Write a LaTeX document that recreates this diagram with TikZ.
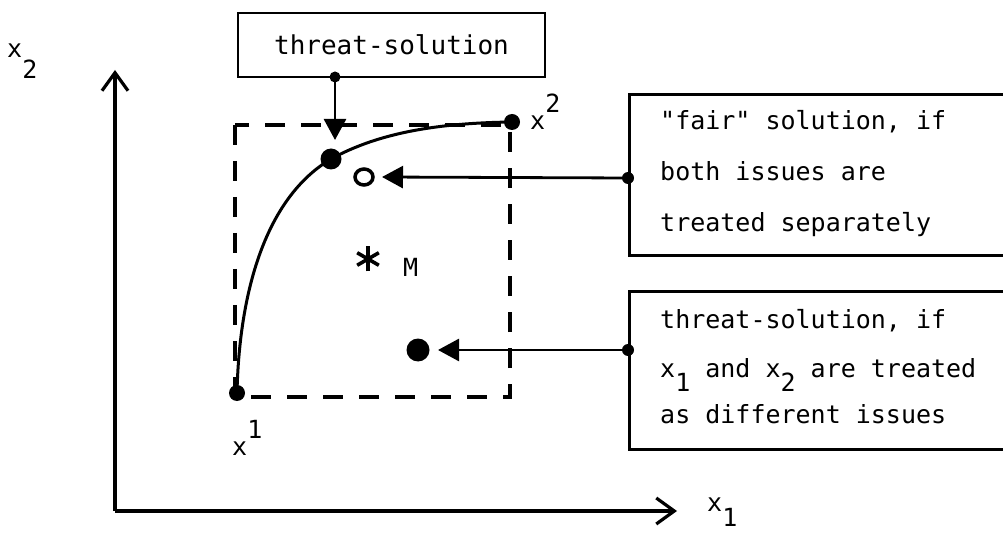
\documentclass[tikz,border=0pt]{standalone}
\usepackage{fontspec}
\setmonofont{DejaVu Sans Mono}
\usetikzlibrary{arrows.meta,calc,shapes.geometric}
\begin{document}
\begin{tikzpicture}[x=1pt,y=-1pt,
  every node/.style={font=\ttfamily\fontsize{25}{30}\selectfont, inner sep=0pt},
  txt/.style={anchor=base west},
  frame/.style={draw, line width=2.8pt},
  axisline/.style={line width=3.2pt, -{Straight Barb[length=18pt,width=26pt,line width=3.2pt]}},
  pointer/.style={line width=2.8pt, -{Triangle[length=21pt,width=22pt]}},
  bigdot/.style={circle, fill, inner sep=0pt, minimum size=#1},
  dashbox/.style={line width=3.2pt, dash pattern=on 20pt off 16pt},
]
\useasboundingbox (0,0) rectangle (1003,534);
\clip (0,0) rectangle (1003,534);

% axes
\coordinate (O) at (115,511);
\coordinate (ytip) at (115,70);
\coordinate (xtip) at (677,511);
\draw[axisline] (O) -- (ytip);
\draw[axisline] (O) -- (xtip);
\node[txt] (lx2axis) at (7,58) {x\raisebox{-21pt}{2}};
\node[txt] (lx1axis) at (707,511) {x\raisebox{-15pt}{1}};

% dashed rectangle
\coordinate (rA) at (235,125);
\coordinate (rB) at (510,397);
\draw[dashbox] (rA) rectangle (rB);

% curve and points
\node[bigdot=16pt] (x1) at (237,393) {};
\node[bigdot=16pt] (x2) at (512,122) {};
\node[bigdot=21pt] (tp) at (331,159) {};
\draw[line width=3pt] (x1.center) .. controls (239,300) and (262,200) .. (tp.center)
  .. controls (380,132) and (440,123) .. (x2.center);
\node[txt] (lx1) at (232,455) {x\raisebox{17pt}{1}};
\node[txt] (lx2) at (530,130) {x\raisebox{17pt}{2}};

% other points
\node[ellipse, draw, line width=3.5pt, minimum width=18pt, minimum height=16pt] (fair) at (364,177) {};
\node[bigdot=23pt] (ts2) at (418,350) {};
\coordinate (M) at (368,259);
\foreach \a in {90,30,150} {
  \draw[line width=3.6pt] ($(M)+(\a:12.5)$) -- ($(M)+(\a+180:12.5)$);
}
\node[txt] (lM) at (403,277) {M};

% threat-solution box
\node[frame, minimum width=307pt, minimum height=64pt] (tsbox) at (391.5,45) {\fontsize{26}{30}\selectfont threat-solution};
\coordinate (tsfoot) at (335,77);
\coordinate (tshead) at (335,140);
\node[bigdot=11pt] (tsfootdot) at (tsfoot) {};
\draw[pointer] (tsfoot) -- (tshead);

% right boxes
\node[frame, anchor=north west, minimum width=420pt, minimum height=161pt] (fairbox) at (628,93) {};
\node[txt] (f1) at (660,130) {"fair" solution, if};
\node[txt] (f2) at (660,181) {both issues are};
\node[txt] (f3) at (660,232) {treated separately};
\coordinate (fairfoot) at (628,178);
\coordinate (fairhead) at (382,177);
\node[bigdot=12pt] (fairfootdot) at (fairfoot) {};
\draw[pointer] (fairfoot) -- (fairhead);

\node[frame, anchor=north west, minimum width=420pt, minimum height=158pt] (threatbox) at (628,290) {};
\node[txt] (t1) at (660,328) {threat-solution, if};
\node[txt] (t2) at (660,377) {x\raisebox{-14pt}{1} and x\raisebox{-14pt}{2} are treated};
\node[txt] (t3) at (660,423) {as different issues};
\coordinate (threatfoot) at (628,350);
\coordinate (threathead) at (438,350);
\node[bigdot=12pt] (threatfootdot) at (threatfoot) {};
\draw[pointer] (threatfoot) -- (threathead);
\end{tikzpicture}
\end{document}
